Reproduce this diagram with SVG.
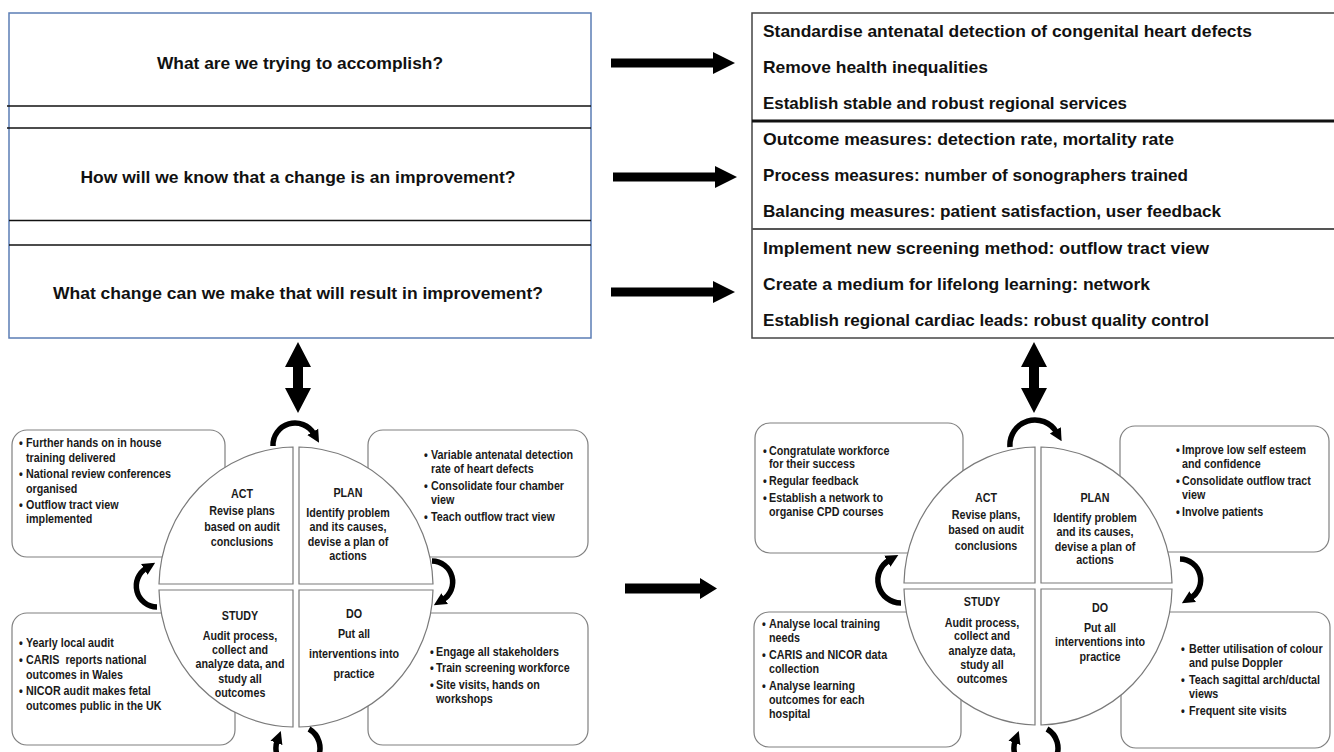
<svg xmlns="http://www.w3.org/2000/svg" width="1334" height="752" viewBox="0 0 1334 752">
<style>
  .q{font-family:"Liberation Sans",Arial,sans-serif;font-weight:bold;font-size:17px;fill:#111}
  .t{font-family:"Liberation Sans",Arial,sans-serif;font-weight:bold;font-size:12.5px;fill:#1a1a1a}
  .c{text-anchor:middle}
  .box{fill:#fff;stroke:#808080;stroke-width:1.2}
  .quad{fill:#fff;stroke:#7a7a7a;stroke-width:1.2}
  .blk{fill:#000}
  .cur{fill:none;stroke:#000;stroke-width:5.5;marker-end:url(#ah)}
</style>
<defs>
  <marker id="ah" viewBox="0 0 10 10" refX="2" refY="5" markerWidth="2.3" markerHeight="2.6" orient="auto" markerUnits="strokeWidth">
    <path d="M0,0 L10,5 L0,10 Z" fill="#000"/>
  </marker>
</defs>
<rect width="1334" height="752" fill="#fff"/>

<g id="questions">
  <rect x="9" y="13" width="582" height="325" fill="#fff" stroke="#5b7db5" stroke-width="1.5"/>
  <line x1="7" y1="106" x2="591" y2="106" stroke="#111" stroke-width="1.5"/>
  <line x1="7" y1="128" x2="591" y2="128" stroke="#111" stroke-width="1.5"/>
  <line x1="9" y1="220.5" x2="591" y2="220.5" stroke="#111" stroke-width="1.5"/>
  <line x1="9" y1="245" x2="591" y2="245" stroke="#111" stroke-width="1.5"/>
  <text class="q c" x="300" y="69" textLength="286" lengthAdjust="spacingAndGlyphs">What are we trying to accomplish?</text>
  <text class="q c" x="298" y="183" textLength="435" lengthAdjust="spacingAndGlyphs">How will we know that a change is an improvement?</text>
  <text class="q c" x="298" y="299" textLength="490" lengthAdjust="spacingAndGlyphs">What change can we make that will result in improvement?</text>
</g>

<g id="answers">
  <rect x="752" y="13" width="600" height="325" fill="#fff" stroke="#444" stroke-width="1.5"/>
  <line x1="752" y1="121" x2="1334" y2="121" stroke="#111" stroke-width="3"/>
  <line x1="752" y1="229" x2="1334" y2="229" stroke="#555" stroke-width="2"/>
  <text class="q" x="763" y="37" textLength="489" lengthAdjust="spacingAndGlyphs">Standardise antenatal detection of congenital heart defects</text>
  <text class="q" x="763" y="73" textLength="225" lengthAdjust="spacingAndGlyphs">Remove health inequalities</text>
  <text class="q" x="763" y="109" textLength="364" lengthAdjust="spacingAndGlyphs">Establish stable and robust regional services</text>
  <text class="q" x="763" y="145" textLength="411" lengthAdjust="spacingAndGlyphs">Outcome measures: detection rate, mortality rate</text>
  <text class="q" x="763" y="181" textLength="425" lengthAdjust="spacingAndGlyphs">Process measures: number of sonographers trained</text>
  <text class="q" x="763" y="217" textLength="458" lengthAdjust="spacingAndGlyphs">Balancing measures: patient satisfaction, user feedback</text>
  <text class="q" x="763" y="254" textLength="446" lengthAdjust="spacingAndGlyphs">Implement new screening method: outflow tract view</text>
  <text class="q" x="763" y="290" textLength="387" lengthAdjust="spacingAndGlyphs">Create a medium for lifelong learning: network</text>
  <text class="q" x="763" y="326" textLength="446" lengthAdjust="spacingAndGlyphs">Establish regional cardiac leads: robust quality control</text>
</g>

<!-- Left PDSA cycle boxes -->
<g id="L-act-box">
  <rect class="box" x="12" y="430" width="213" height="127" rx="15"/>
  <g transform="translate(19 0) scale(0.86 1)">
    <text class="t" x="0" y="447">•</text><text class="t" x="8.2" y="447">Further hands on in house</text>
    <text class="t" x="8.2" y="462">training delivered</text>
    <text class="t" x="0" y="478">•</text><text class="t" x="8.2" y="478">National review conferences</text>
    <text class="t" x="8.2" y="493">organised</text>
    <text class="t" x="0" y="509">•</text><text class="t" x="8.2" y="509">Outflow tract view</text>
    <text class="t" x="8.2" y="523">implemented</text>
  </g>
</g>
<g id="L-plan-box">
  <rect class="box" x="368" y="430" width="220" height="127" rx="15"/>
  <g transform="translate(424 0) scale(0.86 1)">
    <text class="t" x="0" y="459">•</text><text class="t" x="8.2" y="459">Variable antenatal detection</text>
    <text class="t" x="8.2" y="473">rate of heart defects</text>
    <text class="t" x="0" y="490">•</text><text class="t" x="8.2" y="490">Consolidate four chamber</text>
    <text class="t" x="8.2" y="504">view</text>
    <text class="t" x="0" y="521">•</text><text class="t" x="8.2" y="521">Teach outflow tract view</text>
  </g>
</g>
<g id="L-study-box">
  <rect class="box" x="12" y="613" width="223" height="132" rx="15"/>
  <g transform="translate(19 0) scale(0.86 1)">
    <text class="t" x="0" y="647">•</text><text class="t" x="8.2" y="647">Yearly local audit</text>
    <text class="t" x="0" y="664">•</text><text class="t" x="8.2" y="664" xml:space="preserve">CARIS  reports national</text>
    <text class="t" x="8.2" y="679">outcomes in Wales</text>
    <text class="t" x="0" y="695">•</text><text class="t" x="8.2" y="695">NICOR audit makes fetal</text>
    <text class="t" x="8.2" y="710">outcomes public in the UK</text>
  </g>
</g>
<g id="L-do-box">
  <rect class="box" x="368" y="613" width="220" height="132" rx="15"/>
  <g transform="translate(430 0) scale(0.86 1)">
    <text class="t" x="0" y="656">•</text><text class="t" x="7" y="656">Engage all stakeholders</text>
    <text class="t" x="0" y="672">•</text><text class="t" x="7" y="672">Train screening workforce</text>
    <text class="t" x="0" y="689">•</text><text class="t" x="7" y="689">Site visits, hands on</text>
    <text class="t" x="7" y="703">workshops</text>
  </g>
</g>

<!-- Left circle quadrants -->
<g id="L-act">
  <path class="quad" d="M293,584 L293,447 A137,140 0 0 0 159,584 Z"/>
  <g transform="translate(242 0) scale(0.86 1)">
    <text class="t c" x="0" y="498">ACT</text>
    <text class="t c" x="0" y="515">Revise plans</text>
    <text class="t c" x="0" y="531">based on audit</text>
    <text class="t c" x="0" y="546">conclusions</text>
  </g>
</g>
<g id="L-plan">
  <path class="quad" d="M299,584 L299,447 A137,140 0 0 1 433,584 Z"/>
  <g transform="translate(348 0) scale(0.86 1)">
    <text class="t c" x="0" y="497">PLAN</text>
    <text class="t c" x="0" y="517">Identify problem</text>
    <text class="t c" x="0" y="531">and its causes,</text>
    <text class="t c" x="0" y="546">devise a plan of</text>
    <text class="t c" x="0" y="560">actions</text>
  </g>
</g>
<g id="L-study">
  <path class="quad" d="M293,590 L159,590 A137,140 0 0 0 293,727 Z"/>
  <g transform="translate(240 0) scale(0.86 1)">
    <text class="t c" x="0" y="620">STUDY</text>
    <text class="t c" x="0" y="640">Audit process,</text>
    <text class="t c" x="0" y="654">collect and</text>
    <text class="t c" x="0" y="668">analyze data, and</text>
    <text class="t c" x="0" y="683">study all</text>
    <text class="t c" x="0" y="697">outcomes</text>
  </g>
</g>
<g id="L-do">
  <path class="quad" d="M299,590 L433,590 A137,140 0 0 1 299,727 Z"/>
  <g transform="translate(354 0) scale(0.86 1)">
    <text class="t c" x="0" y="618">DO</text>
    <text class="t c" x="0" y="638">Put all</text>
    <text class="t c" x="0" y="658">interventions into</text>
    <text class="t c" x="0" y="678">practice</text>
  </g>
</g>

<!-- Right PDSA cycle boxes -->
<g id="R-act-box">
  <rect class="box" x="755" y="423" width="208" height="130" rx="15"/>
  <g transform="translate(763 0) scale(0.86 1)">
    <text class="t" x="0" y="455">•</text><text class="t" x="7" y="455">Congratulate workforce</text>
    <text class="t" x="7" y="468">for their success</text>
    <text class="t" x="0" y="485">•</text><text class="t" x="7" y="485">Regular feedback</text>
    <text class="t" x="0" y="502">•</text><text class="t" x="7" y="502">Establish a network to</text>
    <text class="t" x="7" y="516">organise CPD courses</text>
  </g>
</g>
<g id="R-plan-box">
  <rect class="box" x="1120" y="426" width="209" height="126" rx="15"/>
  <g transform="translate(1176 0) scale(0.86 1)">
    <text class="t" x="0" y="454">•</text><text class="t" x="7" y="454">Improve low self esteem</text>
    <text class="t" x="7" y="468">and confidence</text>
    <text class="t" x="0" y="485">•</text><text class="t" x="7" y="485">Consolidate outflow tract</text>
    <text class="t" x="7" y="499">view</text>
    <text class="t" x="0" y="516">•</text><text class="t" x="7" y="516">Involve patients</text>
  </g>
</g>
<g id="R-study-box">
  <rect class="box" x="754" y="612" width="207" height="135" rx="15"/>
  <g transform="translate(762 0) scale(0.86 1)">
    <text class="t" x="0" y="628">•</text><text class="t" x="8.2" y="628">Analyse local training</text>
    <text class="t" x="8.2" y="642">needs</text>
    <text class="t" x="0" y="659">•</text><text class="t" x="8.2" y="659">CARIS and NICOR data</text>
    <text class="t" x="8.2" y="673">collection</text>
    <text class="t" x="0" y="690">•</text><text class="t" x="8.2" y="690">Analyse learning</text>
    <text class="t" x="8.2" y="704">outcomes for each</text>
    <text class="t" x="8.2" y="718">hospital</text>
  </g>
</g>
<g id="R-do-box">
  <rect class="box" x="1121" y="612" width="209" height="136" rx="15"/>
  <g transform="translate(1181 0) scale(0.86 1)">
    <text class="t" x="0" y="653">•</text><text class="t" x="9.3" y="653">Better utilisation of colour</text>
    <text class="t" x="9.3" y="667">and pulse Doppler</text>
    <text class="t" x="0" y="684">•</text><text class="t" x="9.3" y="684">Teach sagittal arch/ductal</text>
    <text class="t" x="9.3" y="698">views</text>
    <text class="t" x="0" y="715">•</text><text class="t" x="9.3" y="715">Frequent site visits</text>
  </g>
</g>

<!-- Right circle quadrants -->
<g id="R-act">
  <path class="quad" d="M1035,583 L1035,447 A134,139 0 0 0 904,583 Z"/>
  <g transform="translate(986 0) scale(0.86 1)">
    <text class="t c" x="0" y="502">ACT</text>
    <text class="t c" x="0" y="519">Revise plans,</text>
    <text class="t c" x="0" y="534">based on audit</text>
    <text class="t c" x="0" y="550">conclusions</text>
  </g>
</g>
<g id="R-plan">
  <path class="quad" d="M1041,583 L1041,447 A134,139 0 0 1 1172,583 Z"/>
  <g transform="translate(1095 0) scale(0.86 1)">
    <text class="t c" x="0" y="502">PLAN</text>
    <text class="t c" x="0" y="522">Identify problem</text>
    <text class="t c" x="0" y="536">and its causes,</text>
    <text class="t c" x="0" y="551">devise a plan of</text>
    <text class="t c" x="0" y="564">actions</text>
  </g>
</g>
<g id="R-study">
  <path class="quad" d="M1035,589 L904,589 A134,139 0 0 0 1035,725 Z"/>
  <g transform="translate(982 0) scale(0.86 1)">
    <text class="t c" x="0" y="606">STUDY</text>
    <text class="t c" x="0" y="627">Audit process,</text>
    <text class="t c" x="0" y="640">collect and</text>
    <text class="t c" x="0" y="655">analyze data,</text>
    <text class="t c" x="0" y="669">study all</text>
    <text class="t c" x="0" y="683">outcomes</text>
  </g>
</g>
<g id="R-do">
  <path class="quad" d="M1041,589 L1172,589 A134,139 0 0 1 1041,725 Z"/>
  <g transform="translate(1100 0) scale(0.86 1)">
    <text class="t c" x="0" y="612">DO</text>
    <text class="t c" x="0" y="632">Put all</text>
    <text class="t c" x="0" y="646">interventions into</text>
    <text class="t c" x="0" y="661">practice</text>
  </g>
</g>

<g id="connectors">
  <!-- top horizontal arrows -->
  <path class="blk" d="M611,58.5 L713,58.5 L713,52 L735,63 L713,74 L713,67.5 L611,67.5 Z"/>
  <path class="blk" d="M613,172.5 L715,172.5 L715,166 L737,177 L715,188 L715,181.5 L613,181.5 Z"/>
  <path class="blk" d="M611,287.5 L713,287.5 L713,281 L735,292 L713,303 L713,296.5 L611,296.5 Z"/>
  <!-- middle arrow -->
  <path class="blk" d="M625,583.5 L700,583.5 L700,578 L717,588.5 L700,599 L700,593.5 L625,593.5 Z"/>
  <!-- double vertical arrows -->
  <path class="blk" d="M298,342 L311,367 L303,367 L303,388 L311,388 L298,413 L285,388 L293,388 L293,367 L285,367 Z"/>
  <path class="blk" d="M1034,342 L1047,367 L1039,367 L1039,388 L1047,388 L1034,413 L1021,388 L1029,388 L1029,367 L1021,367 Z"/>
  <!-- left cycle curved arrows -->
  <path class="cur" d="M273,446 A22,22 0 0 1 314,434"/>
  <path class="cur" d="M432,561 A21,21 0 0 1 442.5,600"/>
  <path class="cur" d="M309,729 A22,22 0 1 1 277.3,740.5"/>
  <path class="cur" d="M157,607 A21,21 0 0 1 146.5,568"/>
  <!-- right cycle curved arrows -->
  <path class="cur" d="M1010,447 A25,25 0 0 1 1056.6,432.5"/>
  <path class="cur" d="M1180,559 A21,21 0 0 1 1190.5,598"/>
  <path class="cur" d="M1047,729 A22,22 0 1 1 1015.3,740.5"/>
  <path class="cur" d="M901,603 A23,23 0 0 1 889.5,560"/>
</g>
</svg>
